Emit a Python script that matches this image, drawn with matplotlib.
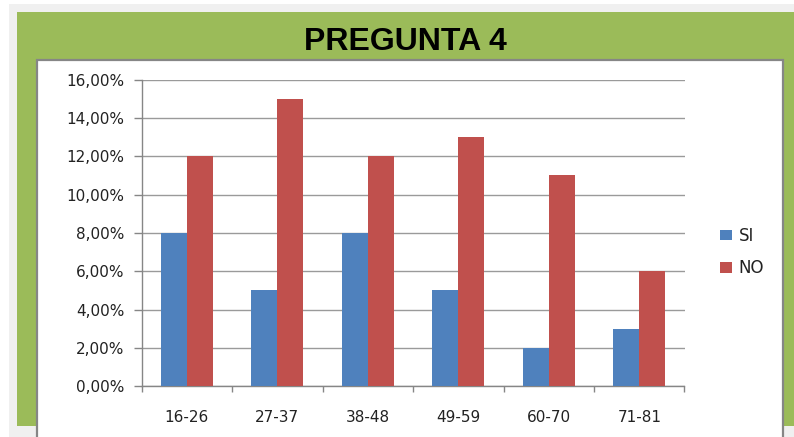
import matplotlib
matplotlib.use("Agg")
import matplotlib.pyplot as plt
from matplotlib.patches import Rectangle
from matplotlib.ticker import FuncFormatter
import numpy as np

# Data
categories = ["16-26", "27-37", "38-48", "49-59", "60-70", "71-81"]
si_values = [8, 5, 8, 5, 2, 3]          # percent
no_values = [12, 15, 12, 13, 11, 6]     # percent
y_ticks = [0, 2, 4, 6, 8, 10, 12, 14, 16]
title = "PREGUNTA 4"

W, H = 794, 437
fig = plt.figure(figsize=(W / 100, H / 100), dpi=100)
fig.patch.set_facecolor("white")


def frect(x0, y0, x1, y1, **kw):
    """Rectangle given in pixel coordinates measured from the top-left corner."""
    r = Rectangle((x0 / W, 1 - y1 / H), (x1 - x0) / W, (y1 - y0) / H,
                  transform=fig.transFigure, **kw)
    fig.patches.append(r)


# Background frames
frect(9, 4, 794, 437, facecolor="#f0f0f0", edgecolor="none", zorder=0)
frect(17, 12, 794, 426, facecolor="#9bbb59", edgecolor="none", zorder=1)
frect(37, 59.5, 782.5, 440, facecolor="white", edgecolor="#868686",
      linewidth=1.6, zorder=2)

# Plot area
ax_l, ax_r, ax_t, ax_b = 141.7, 684.5, 79.5, 386.3
ax = fig.add_axes([ax_l / W, 1 - ax_b / H, (ax_r - ax_l) / W, (ax_b - ax_t) / H])
ax.set_zorder(3)
ax.patch.set_alpha(0)

x = np.arange(len(categories))
w = 0.287
ax.bar(x - w / 2, si_values, width=w, color="#4f81bd", label="SI", zorder=3)
ax.bar(x + w / 2, no_values, width=w, color="#c0504d", label="NO", zorder=3)

ax.set_xlim(-0.5, len(categories) - 0.5)
ax.set_ylim(0, 16)
ax.set_yticks(y_ticks)
ax.yaxis.set_major_formatter(FuncFormatter(lambda v, p: f"{v:.2f}".replace(".", ",") + "%"))
ax.grid(axis="y", color="#9a9a9a", linewidth=1.0, zorder=1)
ax.set_axisbelow(True)

for s in ["top", "right"]:
    ax.spines[s].set_visible(False)
for s in ["left", "bottom"]:
    ax.spines[s].set_color("#868686")
    ax.spines[s].set_linewidth(1.0)

ax.set_xticks(x)
ax.set_xticklabels(categories)
ax.set_xticks(np.arange(-0.5, len(categories)), minor=True)
ax.tick_params(axis="x", which="major", length=0, pad=17, labelsize=11,
               labelcolor="#222222")
ax.tick_params(axis="x", which="minor", length=4.5, color="#868686", width=1.0)
ax.tick_params(axis="y", length=5.5, color="#868686", width=1.0, pad=7,
               labelsize=11, labelcolor="#222222")

# Title
fig.text(405.5 / W, 1 - 50 / H, title, ha="center", va="baseline",
         fontsize=23, fontweight="bold", family="Liberation Sans", color="black",
         zorder=5)

# Legend
fig.legend(loc="center left", bbox_to_anchor=(713 / W, 1 - 252 / H),
           frameon=False, fontsize=12, handlelength=0.75, handleheight=0.6,
           handletextpad=0.4, labelspacing=0.85, borderaxespad=0,
           labelcolor="#222222")

fig.savefig("out.png", dpi=100, facecolor=fig.get_facecolor())
